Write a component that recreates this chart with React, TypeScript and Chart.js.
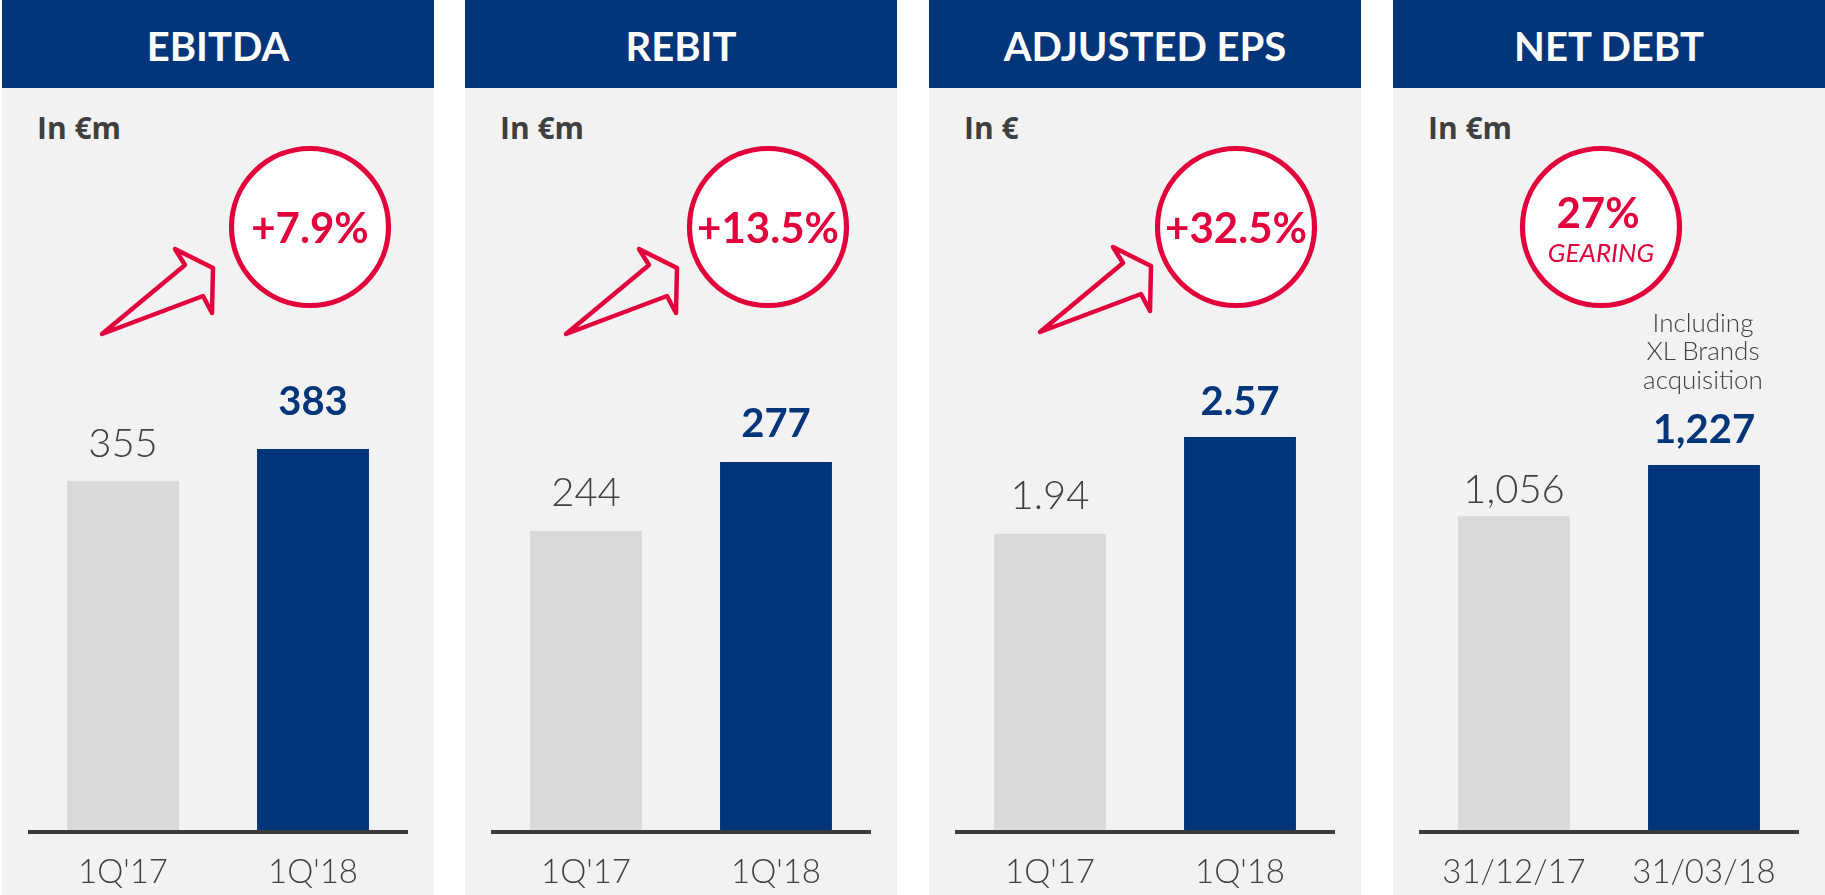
import React, { useEffect, useRef } from "react";
import { Chart, registerables } from "chart.js";

Chart.register(...registerables);

// ---------- data ----------
const panelTitles = ["EBITDA", "REBIT", "ADJUSTED EPS", "NET DEBT"];
const unitLabels = ["In €m", "In €m", "In €", "In €m"];
const quarterLabels = ["1Q'17", "1Q'18"];
const dateLabels = ["31/12/17", "31/03/18"];
const ebitdaValues = [355, 383];
const rebitValues = [244, 277];
const epsValues = [1.94, 2.57];
const netDebtValues = [1056, 1227];
const badgeMain = ["+7.9%", "+13.5%", "+32.5%", "27%"];
const badgeSub = ["", "", "", "GEARING"];
const noteLines = ["Including", "XL Brands", "acquisition"];
const valueDecimals = [0, 0, 2, 0];
const axisMin = [50, 100, 0, 0];
const axisMax = [512.6, 354.5, 3.461, 1778.7];

// ---------- style ----------
const NAVY = "#03357A";
const GRAY_BAR = "#D8D9DB";
const PANEL_BG = "#F2F2F2";
const TEXT = "#404040";
const RED = "#E2003C";
const panelLeft = [2, 465, 929, 1393];
const PANEL_W = 432;
const circleX = [308, 303, 307, 208];
const arrowShift = [[0, 0], [1, 0], [11, -2], null];
const arrowPts = [[100, 334], [183, 265], [173, 249], [211, 268], [210, 313], [201, 296]];
const labelGaps = [[24, 34], [25, 25], [25, 22], [13, 22]];

const panelData = [ebitdaValues, rebitValues, epsValues, netDebtValues];
const panelCats = [quarterLabels, quarterLabels, quarterLabels, dateLabels];

function fmt(v: number, d: number) {
  if (d > 0) return v.toFixed(d);
  return v.toLocaleString("en-US");
}

function PanelChart({ idx }: { idx: number }) {
  const ref = useRef<HTMLCanvasElement | null>(null);
  useEffect(() => {
    if (!ref.current) return;
    const decor = {
      id: "decor" + idx,
      afterDatasetsDraw(chart: any) {
        const { ctx, chartArea } = chart;
        ctx.save();
        ctx.fillStyle = "#3B3B3B";
        ctx.fillRect(chartArea.left, chartArea.bottom - 2, chartArea.right - chartArea.left, 4);
        const meta = chart.getDatasetMeta(0);
        meta.data.forEach((bar: any, j: number) => {
          const v = chart.data.datasets[0].data[j] as number;
          ctx.font = j === 1 ? "bold 40px Lato" : "300 40px Lato";
          ctx.fillStyle = j === 1 ? NAVY : TEXT;
          ctx.textAlign = "center";
          ctx.textBaseline = "alphabetic";
          ctx.fillText(fmt(v, valueDecimals[idx]), bar.x, bar.y - labelGaps[idx][j]);
        });
        ctx.restore();
      },
    };
    const chart = new Chart(ref.current, {
      type: "bar",
      data: {
        labels: panelCats[idx],
        datasets: [
          {
            data: panelData[idx],
            backgroundColor: [GRAY_BAR, NAVY],
            borderWidth: 0,
            barPercentage: 0.589,
            categoryPercentage: 1,
          },
        ],
      },
      options: {
        animation: false,
        responsive: false,
        maintainAspectRatio: false,
        devicePixelRatio: 1,
        layout: { padding: { left: 26, right: 26, top: 212, bottom: 4.4 } },
        plugins: { legend: { display: false }, tooltip: { enabled: false } },
        scales: {
          x: {
            grid: { display: false, drawTicks: false },
            border: { display: false },
            ticks: {
              font: { family: "Lato", size: 33, weight: "300", lineHeight: 1.2 },
              color: TEXT,
              padding: 21,
              maxRotation: 0,
              autoSkip: false,
            },
          },
          y: { display: false, min: axisMin[idx], max: axisMax[idx] },
        },
      },
      plugins: [decor],
    });
    return () => chart.destroy();
  }, [idx]);
  return (
    <canvas
      ref={ref}
      width={PANEL_W}
      height={830}
      style={{ position: "absolute", left: 0, top: 88, width: PANEL_W, height: 830 }}
    />
  );
}

function Panel({ idx }: { idx: number }) {
  const shift = arrowShift[idx];
  const cx = circleX[idx];
  const hasSub = badgeSub[idx] !== "";
  return (
    <div
      style={{
        position: "absolute",
        left: panelLeft[idx],
        top: 0,
        width: PANEL_W,
        height: 895,
        background: PANEL_BG,
        overflow: "hidden",
      }}
    >
      <div
        style={{
          position: "absolute",
          left: 0,
          top: 0,
          width: PANEL_W,
          height: 88,
          background: NAVY,
        }}
      />
      <div
        style={{
          position: "absolute",
          left: 0,
          top: 1.5,
          width: PANEL_W,
          height: 88,
          lineHeight: "88px",
          textAlign: "center",
          color: "#FFFFFF",
          fontFamily: "Lato",
          fontWeight: 700,
          fontSize: 40,
          whiteSpace: "nowrap",
        }}
      >
        {panelTitles[idx]}
      </div>
      <div
        style={{
          position: "absolute",
          left: 35,
          top: 113.4,
          lineHeight: "30px",
          fontFamily: "'Open Sans'",
          fontWeight: 700,
          fontSize: 30,
          color: "#3F3F3F",
          whiteSpace: "nowrap",
        }}
      >
        {unitLabels[idx]}
      </div>
      <PanelChart idx={idx} />
      <svg
        width={PANEL_W}
        height={895}
        style={{ position: "absolute", left: 0, top: 0, pointerEvents: "none" }}
      >
        {shift && (
          <polygon
            points={arrowPts.map((p) => `${p[0] + shift[0]},${p[1] + shift[1]}`).join(" ")}
            fill="none"
            stroke={RED}
            strokeWidth={4.5}
            strokeLinejoin="round"
          />
        )}
        <circle cx={cx} cy={227} r={78.5} fill="#FFFFFF" stroke={RED} strokeWidth={5.2} />
        <text
          x={hasSub ? cx - 3 : cx}
          y={hasSub ? 228 : 243}
          textAnchor="middle"
          fill={RED}
          fontFamily="Lato"
          fontWeight={700}
          fontSize={42}
        >
          {badgeMain[idx]}
        </text>
        {hasSub && (
          <text
            x={cx}
            y={262}
            textAnchor="middle"
            fill={RED}
            fontFamily="Lato"
            fontStyle="italic"
            fontWeight={400}
            fontSize={26}
          >
            {badgeSub[idx]}
          </text>
        )}
      </svg>
      {idx === 3 && (
        <div
          style={{
            position: "absolute",
            left: 210,
            top: 307.7,
            width: 200,
            textAlign: "center",
            lineHeight: "28.5px",
            fontFamily: "Lato",
            fontWeight: 300,
            fontSize: 26,
            color: TEXT,
          }}
        >
          {noteLines.map((l) => (
            <div key={l}>{l}</div>
          ))}
        </div>
      )}
    </div>
  );
}

export default function App() {
  return (
    <div
      style={{
        position: "absolute",
        left: 0,
        top: 0,
        width: 1825,
        height: 895,
        background: "#FFFFFF",
        overflow: "hidden",
      }}
    >
      {[0, 1, 2, 3].map((i) => (
        <Panel key={i} idx={i} />
      ))}
    </div>
  );
}
